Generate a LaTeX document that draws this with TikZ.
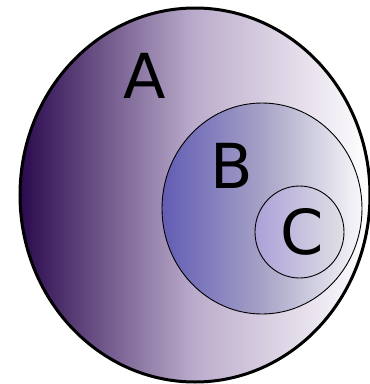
\documentclass[tikz,border=0pt]{standalone}
\usepackage{fontspec}
\setmainfont{DejaVu Sans}
\definecolor{setAleft}{RGB}{42,10,78}
\definecolor{setAmid}{RGB}{188,172,204}
\definecolor{setBleft}{RGB}{98,92,180}
\definecolor{setBmid}{RGB}{166,162,198}
\definecolor{setBright}{RGB}{248,248,250}
\definecolor{setCleft}{RGB}{172,160,216}
\definecolor{setCright}{RGB}{224,224,228}
\begin{document}
\begin{tikzpicture}[x=1pt, y=-1pt,
    setlabel/.style={font=\fontsize{62}{62}\selectfont, inner sep=0pt}]
    \useasboundingbox (0,0) rectangle (370,384);
    \shade[left color=setAleft, right color=white, middle color=setAmid, draw=black, line width=3pt] (195,195) ellipse [x radius=175, y radius=187];
    \shade[left color=setBleft, right color=setBright, middle color=setBmid, draw=black, line width=0.9pt] (262,208.5) ellipse [x radius=100, y radius=105.5];
    \shade[left color=setCleft, right color=setCright, draw=black, line width=0.9pt] (299.5,232) ellipse [x radius=44.5, y radius=46];
    \node[setlabel] (A) at (145,76) {A};
    \node[setlabel] (B) at (232,166) {B};
    \node[setlabel] (C) at (302,232) {C};
\end{tikzpicture}
\end{document}
